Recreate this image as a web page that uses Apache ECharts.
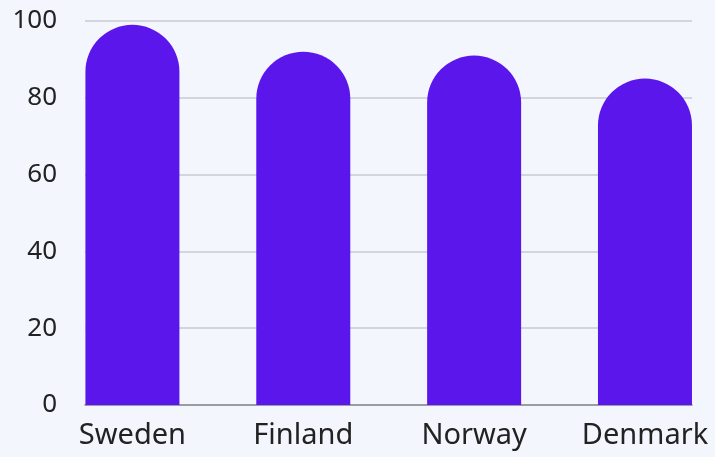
<!DOCTYPE html>
<html>
<head>
<meta charset="utf-8">
<script src="https://cdn.jsdelivr.net/npm/echarts@6/dist/echarts.min.js"></script>
<style>
html,body{margin:0;padding:0;background:#f3f6fd;}
#chart{width:715px;height:457px;}
</style>
</head>
<body>
<div id="chart"></div>
<script>
const categories = ["Sweden", "Finland", "Norway", "Denmark"];
const values = [99, 92, 91, 85];
const yTicks = [0, 20, 40, 60, 80, 100];

const chart = echarts.init(document.getElementById('chart'), null, {renderer: 'canvas'});
const font = "'Noto Sans', 'DejaVu Sans', sans-serif";
chart.setOption({
  backgroundColor: '#f3f6fd',
  animation: false,
  grid: [
    {left: 85, right: 23, top: 21, bottom: 52, outerBoundsMode: 'none', containLabel: false},
    {left: 47, width: 683.4, top: 21, bottom: 52, outerBoundsMode: 'none', containLabel: false}
  ],
  xAxis: [
    {
      gridIndex: 0, type: 'category', data: categories,
      axisLine: {show: true, lineStyle: {color: '#8a8a90', width: 1.5}},
      axisTick: {show: false}, axisLabel: {show: false}, splitLine: {show: false}
    },
    {
      gridIndex: 1, type: 'category', data: categories,
      axisLine: {show: false}, axisTick: {show: false},
      axisLabel: {show: true, color: '#222222', fontSize: 29, fontFamily: font, margin: 16}
    }
  ],
  yAxis: [
    {
      gridIndex: 0, type: 'value', min: yTicks[0], max: yTicks[yTicks.length - 1], interval: 20,
      axisLine: {show: false}, axisTick: {show: false},
      axisLabel: {color: '#222222', fontSize: 26, fontFamily: font, margin: 28},
      splitLine: {show: true, lineStyle: {color: '#c9c9d1', width: 1.5}}
    },
    {
      gridIndex: 1, type: 'value', min: yTicks[0], max: yTicks[yTicks.length - 1], interval: 20,
      show: false, splitLine: {show: false}
    }
  ],
  series: [{
    type: 'bar', xAxisIndex: 1, yAxisIndex: 1, data: values,
    barWidth: 94,
    itemStyle: {color: '#5b17eb', borderRadius: [47, 47, 0, 0]}
  }]
});
</script>
</body>
</html>
